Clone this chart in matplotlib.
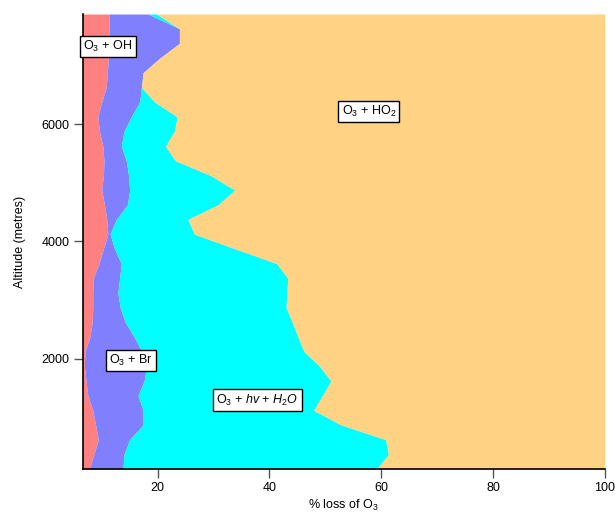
import numpy as np
import matplotlib
matplotlib.use('Agg')
import matplotlib.pyplot as plt

plt.rcParams['font.family'] = ['Liberation Sans', 'DejaVu Sans']
plt.rcParams['mathtext.fontset'] = 'custom'
plt.rcParams['mathtext.rm'] = 'Liberation Sans'
plt.rcParams['mathtext.it'] = 'Liberation Sans:italic'

# altitude levels (m)
altitude = [125, 375, 625, 875, 1125, 1375, 1625, 1875, 2125, 2375, 2625,
            2875, 3125, 3375, 3625, 3875, 4125, 4375, 4625, 4875, 5125, 5375,
            5625, 5875, 6125, 6375, 6625, 6875, 7125, 7375, 7625, 7875]

# % of O3 loss by each reaction at each level
loss_oh = [7.8, 8.6, 9.4, 8.9, 8.4, 7.5, 7.2, 6.9, 7.0, 7.9, 8.3, 8.4, 8.4,
           8.5, 9.5, 10.3, 11.1, 10.9, 10.5, 10.0, 10.3, 10.4, 10.2, 9.6,
           9.3, 10.0, 10.8, 11.0, 11.2, 11.3, 11.3, 11.4]
loss_br = [6.0, 5.4, 5.6, 8.5, 9.0, 9.0, 10.4, 11.1, 10.2, 7.9, 5.9, 4.9,
           4.5, 4.7, 4.0, 2.0, 0.4, 1.7, 4.1, 5.0, 4.5, 4.0, 3.3, 4.4, 6.0,
           6.8, 6.3, 6.4, 9.2, 12.6, 12.6, 6.9]
loss_hv = [45.4, 47.3, 45.8, 35.5, 30.5, 33.0, 33.4, 31.0, 29.0, 29.3, 29.9,
           29.7, 30.2, 30.1, 27.8, 21.6, 15.1, 12.8, 16.2, 18.8, 14.7, 8.8,
           7.9, 9.0, 8.2, 2.7, 0.0, 0.0, 0.0, 0.0, 0.0, 1.5]
loss_ho2 = [40.8, 38.7, 39.2, 47.1, 52.1, 50.5, 49.0, 51.0, 53.8, 54.9, 55.9,
            57.0, 56.9, 56.7, 58.7, 66.1, 73.4, 74.6, 69.2, 66.2, 70.5, 76.8,
            78.6, 77.0, 76.5, 80.5, 82.9, 82.6, 79.6, 76.1, 76.1, 80.2]

colors = ['#FF8080', '#8080FF', '#00FFFF', '#FFD383']

fig = plt.figure(figsize=(6.15, 5.19), dpi=100)
ax = fig.add_axes([0.1345, 0.0964, 0.8488, 0.8766])

# stack the four loss terms left to right
layers = np.array([loss_oh, loss_br, loss_hv, loss_ho2])
upper = np.cumsum(layers, axis=0)
lower = np.vstack([np.zeros(len(altitude)), upper[:-1]])
for lo, hi, c in zip(lower, upper, colors):
    ax.fill_betweenx(altitude, lo, hi, color=c, lw=0)

ax.set_xlim(6.6, 100)
ax.set_ylim(125, 7875)
ax.set_xticks([20, 40, 60, 80, 100])
ax.set_yticks([2000, 4000, 6000])

for s in ['top', 'right']:
    ax.spines[s].set_visible(False)
for s in ['left', 'bottom']:
    ax.spines[s].set_linewidth(1.2)
ax.tick_params(direction='out', length=6.5, width=1, color='#555555',
               labelsize=9, pad=3)

ax.set_xlabel('% loss of O$_3$', fontsize=9, labelpad=3)
ax.set_ylabel('Altitude (metres)', fontsize=9, labelpad=11)

box = dict(boxstyle='square,pad=0.25', fc='white', ec='black', lw=1)
ax.text(11.1, 7320, 'O$_3$ + OH', ha='center', va='center', fontsize=9, bbox=box)
ax.text(57.8, 6215, 'O$_3$ + HO$_2$', ha='center', va='center', fontsize=9, bbox=box)
ax.text(15.2, 1970, 'O$_3$ + Br', ha='center', va='center', fontsize=9, bbox=box)
ax.text(37.9, 1300, 'O$_3$ + $hv$ + $H_2O$', ha='center', va='center', fontsize=9, bbox=box)

fig.savefig('out.png', dpi=100)
